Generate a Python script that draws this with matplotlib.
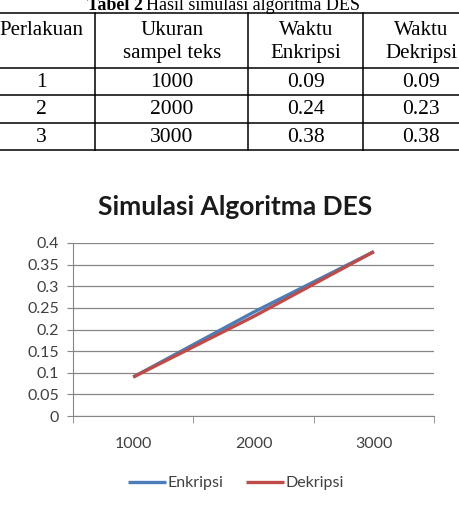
import matplotlib
matplotlib.use("Agg")
from matplotlib import pyplot as plt

# Table data
headers = ["Perlakuan", "Ukuran\nsampel teks", "Waktu\nEnkripsi", "Waktu\nDekripsi"]
perlakuan = ["1", "2", "3"]
ukuran = [1000, 2000, 3000]
enkripsi = [0.09, 0.24, 0.38]
dekripsi = [0.09, 0.23, 0.38]

# Chart styling
blue = "#4A7EBB"
red = "#BE4B48"
grid_col = "#868686"
text_col = "#404040"

W, H = 459, 505
fig = plt.figure(figsize=(W / 100, H / 100), dpi=100)

# ---- table in pixel coordinates ----
tab = fig.add_axes([0, 0, 1, 1])
tab.set_xlim(0, W)
tab.set_ylim(H, 0)
tab.axis("off")

col_edges = [-5, 95, 248, 363, 470]
row_edges = [13, 68, 95, 123, 150]
serif = "Liberation Serif"

for y in row_edges:
    tab.plot([col_edges[0], col_edges[-1]], [y, y], color="black", lw=1.1)
for x in col_edges[1:-1]:
    tab.plot([x, x], [row_edges[0], row_edges[-1]], color="black", lw=1.1)

tab.text(143, 5, "Tabel 2", ha="right", va="center", family=serif,
         fontsize=13, fontweight="bold")
tab.text(146, 5, "Hasil simulasi algoritma DES", ha="left", va="center",
         family=serif, fontsize=13)

# header cells are top aligned, two lines each
centers = [41, 172, 306, 421]
for cx, h in zip(centers, headers):
    tab.text(cx, 21, h, ha="center", va="top", family=serif,
             fontsize=15, linespacing=1.3)

rows = zip(perlakuan, ukuran, enkripsi, dekripsi)
for i, (p, u, e, d) in enumerate(rows):
    cy = (row_edges[i + 1] + row_edges[i + 2]) / 2
    for cx, val in zip(centers, [p, str(u), f"{e:.2f}", f"{d:.2f}"]):
        tab.text(cx, cy + 1, val, ha="center", va="center", family=serif,
                 fontsize=15.5)

# ---- line chart ----
sans = "Lato"
ax = fig.add_axes([73 / W, 1 - 416 / H, 361 / W, 173 / H])
xs = list(range(len(ukuran)))
ax.plot(xs, enkripsi, color=blue, lw=2.4, label="Enkripsi", solid_capstyle="butt")
ax.plot(xs, dekripsi, color=red, lw=2.4, label="Dekripsi", solid_capstyle="butt")

ax.set_xlim(-0.5, len(ukuran) - 0.5)
ax.set_ylim(0, 0.4)
ax.set_yticks([i * 0.05 for i in range(9)])
ax.set_yticklabels(["0", "0.05", "0.1", "0.15", "0.2", "0.25", "0.3", "0.35", "0.4"])
ax.set_xticks(xs)
ax.set_xticklabels([str(u) for u in ukuran])
ax.set_xticks([-0.5, 0.5, 1.5, 2.5], minor=True)
ax.tick_params(axis="x", which="major", length=0, pad=15)
ax.tick_params(axis="x", which="minor", length=5, color=grid_col, direction="out")
ax.tick_params(axis="y", length=4, color=grid_col, pad=6)
for lab in ax.get_xticklabels() + ax.get_yticklabels():
    lab.set_family(sans)
    lab.set_fontsize(11.5)
    lab.set_color(text_col)

ax.grid(axis="y", color=grid_col, lw=0.9)
ax.set_axisbelow(True)
for s in ["top", "right"]:
    ax.spines[s].set_visible(False)
ax.spines["left"].set_color(grid_col)
ax.spines["bottom"].set_color(grid_col)

fig.text(235 / W, 1 - 207 / H, "Simulasi Algoritma DES", ha="center", va="center",
         family=sans, fontsize=19, fontweight="bold", color="#1a1a1a")

fig.legend(loc="center", bbox_to_anchor=(236 / W, 1 - 483 / H), ncol=2, frameon=False,
           prop={"family": sans, "size": 11.5}, handlelength=2.4, handletextpad=0.1,
           columnspacing=1.4, labelcolor=text_col)

fig.savefig("out.png", dpi=100)
